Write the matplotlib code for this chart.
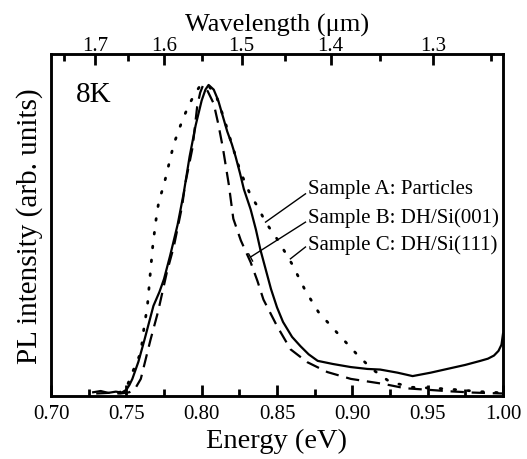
import numpy as np
import matplotlib
matplotlib.use("Agg")
import matplotlib.pyplot as plt

plt.rcParams['font.family'] = ['Liberation Serif', 'DejaVu Serif']

# --- data (energy in eV, normalised intensity) ---
solid_e = [0.728, 0.733, 0.738, 0.743, 0.747, 0.750, 0.752, 0.754, 0.758, 0.762,
           0.765, 0.768, 0.772, 0.775, 0.779, 0.784, 0.788, 0.792, 0.796, 0.800,
           0.8025, 0.8046, 0.808, 0.811, 0.814, 0.817, 0.820, 0.8225, 0.8255, 0.828,
           0.8325, 0.836, 0.839, 0.846, 0.850, 0.854, 0.860, 0.8656, 0.871, 0.877,
           0.887, 0.899, 0.91, 0.9185, 0.93, 0.940, 0.952, 0.963, 0.975, 0.985,
           0.990, 0.994, 0.997, 0.999, 1.000]
solid_i = [0.012, 0.016, 0.010, 0.014, 0.011, 0.020, 0.035, 0.055, 0.11, 0.18,
           0.235, 0.29, 0.335, 0.376, 0.45, 0.55, 0.65, 0.77, 0.87, 0.95,
           0.985, 1.0, 0.985, 0.95, 0.90, 0.85, 0.81, 0.77, 0.715, 0.665,
           0.60, 0.535, 0.47, 0.344, 0.285, 0.238, 0.19, 0.16, 0.134, 0.113,
           0.103, 0.093, 0.087, 0.085, 0.075, 0.064, 0.075, 0.087, 0.10, 0.113,
           0.120, 0.130, 0.145, 0.165, 0.20]

dash_e = [0.730, 0.738, 0.746, 0.752, 0.756, 0.7596, 0.766, 0.771, 0.777, 0.7815,
          0.787, 0.789, 0.794, 0.797, 0.799, 0.801, 0.804, 0.808, 0.811, 0.814,
          0.818, 0.821, 0.826, 0.8325, 0.837, 0.841, 0.850, 0.859, 0.870, 0.8834,
          0.899, 0.9205, 0.935, 0.950, 0.965, 0.980, 1.000]
dash_i = [0.008, 0.010, 0.008, 0.012, 0.025, 0.055, 0.18, 0.27, 0.40, 0.48,
          0.61, 0.68, 0.80, 0.93, 0.975, 1.0, 0.98, 0.94, 0.875, 0.80,
          0.68, 0.57, 0.50, 0.43, 0.37, 0.31, 0.225, 0.15, 0.109, 0.077,
          0.055, 0.039, 0.025, 0.020, 0.015, 0.011, 0.008]

dot_e = [0.745, 0.750, 0.753, 0.7596, 0.7616, 0.764, 0.766, 0.7675, 0.7695, 0.7715,
         0.775, 0.7815, 0.787, 0.791, 0.7947, 0.7993, 0.805, 0.81, 0.815, 0.82,
         0.8258, 0.8325, 0.837, 0.8424, 0.851, 0.860, 0.8689, 0.8775, 0.8907, 0.904,
         0.913, 0.925, 0.940, 0.955, 0.970, 0.985, 1.000]
dot_i = [0.010, 0.025, 0.064, 0.14, 0.215, 0.29, 0.40, 0.48, 0.56, 0.624,
         0.68, 0.81, 0.884, 0.93, 0.965, 1.0, 0.995, 0.96, 0.89, 0.81,
         0.72, 0.645, 0.61, 0.559, 0.498, 0.424, 0.338, 0.27, 0.199, 0.129,
         0.087, 0.045, 0.028, 0.025, 0.020, 0.014, 0.010]

e_major = [0.70, 0.75, 0.80, 0.85, 0.90, 0.95, 1.00]
e_minor = [0.725, 0.775, 0.825, 0.875, 0.925, 0.975]
wl_major = [1.7, 1.6, 1.5, 1.4, 1.3]
wl_minor = [1.75, 1.65, 1.55, 1.45, 1.35, 1.25]
HC = 1.23984  # eV*um

labels = ['Sample A: Particles', 'Sample B: DH/Si(001)', 'Sample C: DH/Si(111)']
lab_y = [0.666, 0.576, 0.489]
lead_start = [(0.8424, 0.559), (0.8325, 0.447), (0.8589, 0.441)]
lead_end = [(0.8689, 0.650), (0.8689, 0.559), (0.8689, 0.479)]

fig = plt.figure(figsize=(5.27, 4.60), dpi=100)
ax = fig.add_axes([51 / 527, 1 - 397 / 460, 452 / 527, 342 / 460])

ax.plot(solid_e, solid_i, color='black', lw=1.6, ls='-')
ax.plot(dash_e, dash_i, color='black', lw=1.6, ls=(0, (6, 3.5)))
ax.plot(dot_e, dot_i, color='black', lw=2.0, ls=(0, (0.6, 4.4)),
        dash_capstyle='round')

ax.set_xlim(0.70, 1.00)
ax.set_ylim(0, 1.0995)
ax.set_yticks([])

# top wavelength axis
top = ax.twiny()
top.set_xlim(ax.get_xlim())
top.set_xticks([HC / w for w in wl_major])
top.set_xticklabels(['%.1f' % w for w in wl_major])
top.set_xticks([HC / w for w in wl_minor], minor=True)
top.tick_params(axis='x', which='major', direction='in', length=8, width=2,
                color='black', labelsize=15, pad=-1)
top.tick_params(axis='x', which='minor', direction='in', length=5, width=2,
                color='black')
top.set_xlabel('Wavelength (\u03bcm)', fontsize=19, labelpad=4)

ax.set_xticks(e_major)
ax.set_xticklabels(['%.2f' % e for e in e_major])
ax.set_xticks(e_minor, minor=True)
ax.tick_params(axis='x', which='major', direction='in', length=8, width=2,
               color='black', labelsize=15, pad=6)
ax.tick_params(axis='x', which='minor', direction='in', length=5, width=2,
               color='black')
for s in ax.spines.values():
    s.set_linewidth(1.8)
for s in top.spines.values():
    s.set_linewidth(1.8)

ax.set_xlabel('Energy (eV)', fontsize=20.5, labelpad=3)
ax.set_ylabel('PL intensity (arb. units)', fontsize=21, labelpad=6)

ax.text(0.7166, 0.971, '8K', fontsize=21, ha='left', va='center')

# labels with leader lines
for t, yy, p0, p1 in zip(labels, lab_y, lead_start, lead_end):
    ax.text(0.8709, yy, t, fontsize=15, ha='left', va='center')
    ax.plot([p0[0], p1[0]], [p0[1], p1[1]], color='black', lw=1.0)
ax.plot([0.8312, 0.8338], [0.457, 0.434], color='black', lw=1.0)

fig.savefig('out.png', dpi=100)
